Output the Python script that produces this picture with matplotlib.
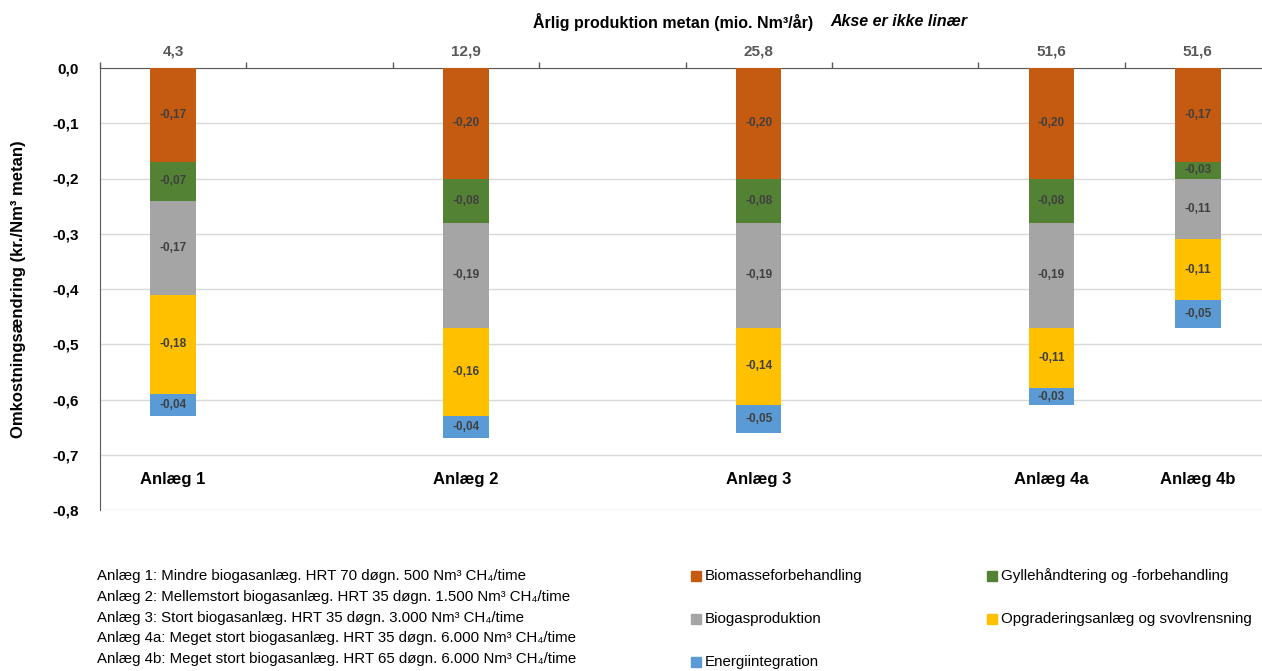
import matplotlib
matplotlib.use('Agg')
import matplotlib.pyplot as plt
from matplotlib.patches import Rectangle
from matplotlib.ticker import FuncFormatter

plt.rcParams['font.family'] = ['Liberation Sans', 'DejaVu Sans']

# data
anlaeg = ['Anlæg 1', 'Anlæg 2', 'Anlæg 3', 'Anlæg 4a', 'Anlæg 4b']
slots = [0, 2, 4, 6, 7]          # axis is not linear: plants sit in fixed slots
produktion = ['4,3', '12,9', '25,8', '51,6', '51,6']

serier = ['Biomasseforbehandling', 'Gyllehåndtering og -forbehandling', 'Biogasproduktion',
          'Opgraderingsanlæg og svovlrensning', 'Energiintegration']
farver = ['#C55A11', '#548235', '#A5A5A5', '#FFC000', '#5B9BD5']

biomasse = [-0.17, -0.20, -0.20, -0.20, -0.17]
gylle = [-0.07, -0.08, -0.08, -0.08, -0.03]
biogas = [-0.17, -0.19, -0.19, -0.19, -0.11]
opgradering = [-0.18, -0.16, -0.14, -0.11, -0.11]
energi = [-0.04, -0.04, -0.05, -0.03, -0.05]
vaerdier = [biomasse, gylle, biogas, opgradering, energi]

noter = [
    'Anlæg 1: Mindre biogasanlæg. HRT 70 døgn. 500 Nm³ CH₄/time',
    'Anlæg 2: Mellemstort biogasanlæg. HRT 35 døgn. 1.500 Nm³ CH₄/time',
    'Anlæg 3: Stort biogasanlæg. HRT 35 døgn. 3.000 Nm³ CH₄/time',
    'Anlæg 4a: Meget stort biogasanlæg. HRT 35 døgn. 6.000 Nm³ CH₄/time',
    'Anlæg 4b: Meget stort biogasanlæg. HRT 65 døgn. 6.000 Nm³ CH₄/time',
]

W, H = 1262, 671
fig = plt.figure(figsize=(W / 100, H / 100), dpi=100)
ax = fig.add_axes([100 / W, 161 / H, 1171 / W, 442 / H])

xs = [s + 0.5 for s in slots]
bund = [0.0] * len(anlaeg)
for navn, farve, v in zip(serier, farver, vaerdier):
    bars = ax.bar(xs, v, width=0.31, bottom=bund, color=farve, label=navn, zorder=3)
    for b, val in zip(bars, v):
        ax.text(b.get_x() + b.get_width() / 2, b.get_y() + b.get_height() / 2,
                f'{val:.2f}'.replace('.', ','), ha='center', va='center',
                fontsize=8.5, fontweight='bold', color='#404040', zorder=4)
    bund = [a + b for a, b in zip(bund, v)]

ax.set_xlim(0, 8)
ax.set_ylim(-0.8, 0)
ax.set_yticks([-0.8, -0.7, -0.6, -0.5, -0.4, -0.3, -0.2, -0.1, 0.0])
ax.yaxis.set_major_formatter(FuncFormatter(lambda y, p: f'{y:.1f}'.replace('.', ',') if abs(y) > 1e-9 else '0,0'))
for lbl in ax.get_yticklabels():
    lbl.set_fontweight('bold')
    lbl.set_fontsize(11)
ax.tick_params(axis='y', length=0, pad=15)
ax.grid(axis='y', color='#D9D9D9', linewidth=1, zorder=0)

ax.xaxis.tick_top()
ax.set_xticks(range(9))
ax.set_xticklabels([])
ax.tick_params(axis='x', direction='out', length=4, color='#595959', width=1)

for side in ['right', 'bottom']:
    ax.spines[side].set_visible(False)
ax.spines['top'].set_color('#595959')
ax.spines['left'].set_color('#595959')

for x, p, n in zip(xs, produktion, anlaeg):
    ax.annotate(p, (x, 0), xytext=(0, 7), textcoords='offset points', ha='center', va='bottom',
                fontsize=11, fontweight='bold', color='#595959')
    ax.text(x, -0.744, n, ha='center', va='center', fontsize=12, fontweight='bold', color='black')

ax.set_ylabel('Omkostningsændring (kr./Nm³ metan)', fontsize=12, fontweight='bold')
ax.yaxis.set_label_coords(-74 / 1171, 0.5)

fig.text(533 / W, 1 - 22 / H, 'Årlig produktion metan (mio. Nm³/år)', ha='left', va='center',
         fontsize=11.5, fontweight='bold')
fig.text(830 / W, 1 - 22 / H, 'Akse er ikke linær', ha='left', va='center',
         fontsize=11.5, fontweight='bold', style='italic')

fig.text(97 / W, 1 - 569 / H, '\n'.join(noter), ha='left', va='top', fontsize=10.8,
         linespacing=1.62)

# legend, two columns
for i, (navn, farve) in enumerate(zip(serier, farver)):
    col, row = i % 2, i // 2
    x0 = (691 if col == 0 else 987) / W
    y0 = 1 - (576 + row * 43) / H
    fig.add_artist(Rectangle((x0, y0 - 5 / H), 10 / W, 10 / H, transform=fig.transFigure,
                             color=farve))
    fig.text(x0 + 14 / W, y0, navn, ha='left', va='center', fontsize=10.9)

fig.savefig('out.png', dpi=100)
